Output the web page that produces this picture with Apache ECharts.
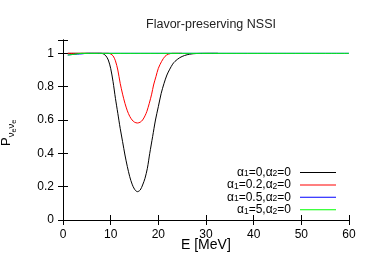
<!DOCTYPE html>
<html><head><meta charset="utf-8">
<script src="https://cdn.jsdelivr.net/npm/echarts@6/dist/echarts.min.js"></script>
<style>html,body{margin:0;padding:0;background:#fff}#c{width:374px;height:262px}</style>
</head><body><div id="c"></div>
<script>
var titleText = 'Flavor-preserving NSSI';
var xTicks = [0,10,20,30,40,50,60];
var yTicks = [0,0.2,0.4,0.6,0.8,1];
var seriesNames = ['a1=0,a2=0','a1=0.2,a2=0','a1=0.5,a2=0','a1=5,a2=0'];
var seriesLabels = [['0','0'],['0.2','0'],['0.5','0'],['5','0']];
var seriesColors = ['#000000','#ff0000','#0000ff','#00ff00'];
var blackData = [[1,1],[8,1],[8.5,0.996],[9,0.985],[9.5,0.96],[10,0.91],[10.5,0.83],[11,0.73],[11.5,0.64],[12,0.55],[12.5,0.47],[13,0.39],[13.5,0.32],[14,0.26],[14.5,0.215],[15,0.185],[15.6,0.17],[16.2,0.18],[16.7,0.21],[17.2,0.25],[17.7,0.31],[18.2,0.4],[18.8,0.5],[19.4,0.6],[20,0.68],[20.6,0.76],[21.2,0.82],[21.8,0.87],[22.4,0.905],[23,0.935],[23.5,0.952],[24.5,0.974],[25.5,0.987],[26.6,0.995],[28,0.999],[32.5,1]];
var redData = [[1,1],[9.5,1],[10,0.996],[10.5,0.985],[11,0.955],[11.5,0.9],[12,0.82],[12.5,0.755],[13,0.7],[13.5,0.655],[14,0.622],[14.5,0.6],[15,0.587],[15.6,0.582],[16.2,0.587],[16.7,0.6],[17.2,0.625],[17.6,0.652],[18.1,0.7],[18.6,0.755],[19,0.81],[19.5,0.86],[20,0.91],[20.7,0.952],[21.4,0.982],[22.1,0.995],[23,1],[25,1]];
var blueData = [[1,0.99],[2,0.993],[3,0.995],[4,0.997],[5,1],[60,1]];
var greenData = [[1,0.99],[2,0.993],[3,0.997],[4,1],[60,1]];
var allData = [blackData, redData, blueData, greenData];

var chart = echarts.init(document.getElementById('c'));
var font = 'Liberation Sans, Arial, sans-serif';
var legendMap = {};
seriesNames.forEach(function(n,i){legendMap[n]=seriesLabels[i];});
var grid = {left:63, right:25, top:40, bottom:42};
var axisCommon = {
  axisLine:{show:true,lineStyle:{color:'#000',width:1}},
  axisTick:{show:true,inside:true,length:5,lineStyle:{color:'#000',width:1}},
  splitLine:{show:false}
};
chart.setOption({
  animation:false,
  backgroundColor:'#fff',
  title:{text:titleText,left:206,textAlign:'center',top:13,textStyle:{fontFamily:font,fontSize:12.5,fontWeight:'normal',color:'#222'}},
  grid:grid,
  xAxis:[
    Object.assign({type:'value',min:xTicks[0],max:xTicks[xTicks.length-1],interval:10,position:'bottom',
      axisLabel:{color:'#000',fontFamily:font,fontSize:12,margin:9}},axisCommon),
    Object.assign({type:'value',min:xTicks[0],max:xTicks[xTicks.length-1],interval:10,position:'top',
      axisLabel:{show:false}},axisCommon)
  ],
  yAxis:[
    Object.assign({type:'value',min:0,max:1.08,interval:0.2,position:'left',
      axisLabel:{color:'#000',fontFamily:font,fontSize:12,margin:9,
        formatter:function(v){return yTicks.some(function(t){return Math.abs(t-v)<1e-6;})?String(+v.toFixed(1)):'';}}},axisCommon),
    Object.assign({type:'value',min:0,max:1.08,interval:0.2,position:'right',
      axisLabel:{show:false}},axisCommon)
  ],
  legend:{
    orient:'vertical', right:38, top:166.5, align:'right', itemWidth:36, itemHeight:12, itemGap:0.4, padding:0,
    icon:'path://M0,5.5L36,5.5L36,6.5L0,6.5Z',
    data:seriesNames.map(function(n,i){return {name:n,itemStyle:{color:seriesColors[i]}};}),
    formatter:function(n){var l=legendMap[n];return '{a|α}{s|1}{a|='+l[0]+',α}{s|2}{a|='+l[1]+'}';},
    textStyle:{fontFamily:font,fontSize:12,color:'#000',padding:[0,4,0,0],lineHeight:12,
      rich:{a:{fontFamily:font,fontSize:12,color:'#000',lineHeight:12,verticalAlign:'middle'},
            s:{fontFamily:font,fontSize:8.5,color:'#000',verticalAlign:'bottom',lineHeight:3}}}
  },
  graphic:[
    {type:'text',left:181,top:238,style:{text:'E [MeV]',font:'14px '+font,fill:'#000'}},
    {type:'text',x:0,y:146,rotation:Math.PI/2,style:{
      text:'{p|P}{s|ν}{t|e}{s|ν}{t|e}',
      rich:{p:{fontFamily:font,fontSize:13,fill:'#000',lineHeight:13,verticalAlign:'top'},
            s:{fontFamily:font,fontSize:9.5,fill:'#000',lineHeight:9,verticalAlign:'top',padding:[6,0,0,0]},
            t:{fontFamily:font,fontSize:7.5,fill:'#000',lineHeight:7,verticalAlign:'top',padding:[10,0,0,0]}}}}
  ],
  series:allData.map(function(d,i){
    return {name:seriesNames[i],type:'line',data:d,showSymbol:false,smooth:0.3,
      lineStyle:{color:seriesColors[i],width:1},itemStyle:{color:seriesColors[i]}};
  })
});
</script></body></html>
